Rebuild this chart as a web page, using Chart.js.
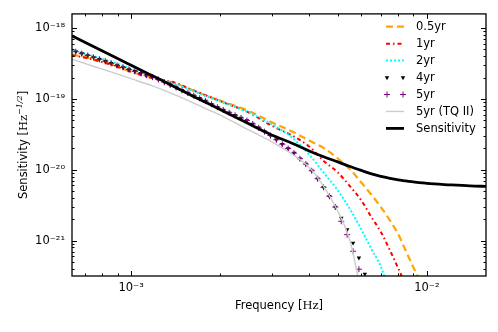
<!DOCTYPE html>
<html>
<head>
<meta charset="utf-8">
<script src="https://cdn.jsdelivr.net/npm/chart.js@4.4.1/dist/chart.umd.min.js"></script>
<style>
  html, body { margin: 0; padding: 0; background: #fff; }
  #wrap { width: 498px; height: 332px; }
</style>
</head>
<body>
<div id="wrap"><canvas id="chart" width="498" height="332"></canvas></div>
<script>
// frequencies [Hz] for the smooth curves
const freq = [0.00063, 0.0007, 0.0008, 0.0009, 0.001, 0.0012, 0.0014, 0.0016, 0.0018, 0.002,
  0.0025, 0.003, 0.0035, 0.004, 0.0045, 0.005, 0.0055, 0.006, 0.0065, 0.007,
  0.0075, 0.008, 0.0085, 0.009, 0.0095, 0.01, 0.012, 0.014, 0.016];

const sensitivity = [7.79e-19, 6.27e-19, 4.76e-19, 3.72e-19, 2.99e-19, 2.05e-19, 1.49e-19, 1.12e-19, 8.81e-20, 7.07e-20,
  4.45e-20, 3.07e-20, 2.37e-20, 1.84e-20, 1.51e-20, 1.29e-20, 1.11e-20, 9.77e-21, 8.73e-21, 8.05e-21,
  7.54e-21, 7.18e-21, 6.95e-21, 6.73e-21, 6.58e-21, 6.41e-21, 6.11e-21, 5.91e-21, 5.82e-21];

const yr05 = [4.21e-19, 3.88e-19, 3.35e-19, 2.85e-19, 2.42e-19, 1.96e-19, 1.67e-19, 1.35e-19, 1.11e-19, 9.46e-20,
  6.73e-20, 4.64e-20, 3.46e-20, 2.59e-20, 2.00e-20, 1.44e-20, 1.01e-20, 6.62e-21, 4.42e-21, 2.94e-21,
  1.93e-21, 1.23e-21, 7.07e-22, 4.21e-22, 2.67e-22, 1.64e-22];

const yr1 = [4.14e-19, 3.82e-19, 3.30e-19, 2.85e-19, 2.42e-19, 1.93e-19, 1.70e-19, 1.35e-19, 1.11e-19, 9.31e-20,
  6.41e-20, 4.14e-20, 3.04e-20, 2.13e-20, 1.31e-20, 9.16e-21, 5.82e-21, 3.70e-21, 2.13e-21, 1.31e-21,
  7.30e-22, 4.07e-22, 2.27e-22, 1.27e-22];

const yr2 = [4.95e-19, 4.35e-19, 3.70e-19, 3.14e-19, 2.67e-19, 2.03e-19, 1.64e-19, 1.33e-19, 1.08e-19, 9.16e-20,
  6.41e-20, 4.35e-20, 2.85e-20, 1.64e-20, 8.87e-21, 5.11e-21, 2.76e-21, 1.44e-21, 7.54e-22, 4.21e-22,
  1.81e-22];

const yr5tq = [3.64e-19, 3.14e-19, 2.63e-19, 2.24e-19, 1.93e-19, 1.49e-19, 1.15e-19, 9.01e-20, 7.18e-20, 5.91e-20,
  3.64e-20, 2.46e-20, 1.67e-20, 1.08e-20, 5.63e-21, 2.59e-21, 9.77e-22, 1.81e-22, 3.82e-23];

// frequencies of the marker series (4yr, 5yr)
const markerFreq = [0.000650, 0.000681, 0.000713, 0.000746, 0.000781, 0.000818, 0.000856, 0.000896, 0.000939, 0.000983,
  0.001029, 0.001077, 0.001128, 0.001181, 0.001236, 0.001295, 0.001355, 0.001419, 0.001486, 0.001556,
  0.001629, 0.001705, 0.001785, 0.001869, 0.001957, 0.002049, 0.002146, 0.002246, 0.002352, 0.002463,
  0.002578, 0.002699, 0.002826, 0.002959, 0.003098, 0.003244, 0.003396, 0.003556, 0.003723, 0.003898,
  0.004081, 0.004273, 0.004474, 0.004684, 0.004904, 0.005135, 0.005376, 0.005629, 0.005893, 0.006171,
  0.006461];

const yr5 = [4.64e-19, 4.35e-19, 4.10e-19, 3.85e-19, 3.62e-19, 3.40e-19, 3.17e-19, 2.96e-19, 2.78e-19, 2.60e-19,
  2.45e-19, 2.30e-19, 2.16e-19, 2.03e-19, 1.88e-19, 1.72e-19, 1.58e-19, 1.45e-19, 1.32e-19, 1.21e-19,
  1.11e-19, 1.02e-19, 9.31e-20, 8.42e-20, 7.64e-20, 6.98e-20, 6.39e-20, 5.87e-20, 5.38e-20, 4.95e-20,
  4.43e-20, 3.90e-20, 3.45e-20, 3.04e-20, 2.65e-20, 2.29e-20, 1.99e-20, 1.72e-20, 1.43e-20, 1.20e-20,
  9.68e-21, 7.47e-21, 5.63e-21, 4.21e-21, 2.97e-21, 1.87e-21, 1.21e-21, 7.07e-22, 3.94e-22, 1.93e-22,
  9.46e-23];

const yr4 = [4.64e-19, 4.35e-19, 4.10e-19, 3.85e-19, 3.62e-19, 3.40e-19, 3.17e-19, 2.96e-19, 2.78e-19, 2.60e-19,
  2.45e-19, 2.30e-19, 2.16e-19, 2.03e-19, 1.88e-19, 1.72e-19, 1.58e-19, 1.45e-19, 1.32e-19, 1.21e-19,
  1.11e-19, 1.02e-19, 9.31e-20, 8.42e-20, 7.64e-20, 6.98e-20, 6.39e-20, 5.87e-20, 5.38e-20, 4.95e-20,
  4.43e-20, 3.90e-20, 3.45e-20, 3.04e-20, 2.65e-20, 2.29e-20, 1.99e-20, 1.72e-20, 1.43e-20, 1.20e-20,
  9.68e-21, 7.47e-21, 5.63e-21, 4.21e-21, 2.97e-21, 2.08e-21, 1.43e-21, 9.25e-22, 5.69e-22, 3.38e-22,
  1.81e-22];

const xDecades = [-4, -3, -2, -1];
const yDecades = [-23, -22, -21, -20, -19, -18, -17];

const SANS = 'DejaVu Sans';
const SERIF = 'DejaVu Serif';
const SUP = { '-': '\u207B', '0': '\u2070', '1': '\u00B9', '2': '\u00B2', '3': '\u00B3', '4': '\u2074',
  '5': '\u2075', '6': '\u2076', '7': '\u2077', '8': '\u2078', '9': '\u2079' };

const pts = (xs, ys) => ys.map((v, i) => ({ x: xs[i], y: v }));

function isDecade(v) {
  const e = Math.log10(v);
  return Math.abs(e - Math.round(e)) < 1e-6;
}

function decadeLabel(v) {
  if (!isDecade(v)) return '';
  const e = String(Math.round(Math.log10(v)));
  return '10' + e.split('').map(c => SUP[c]).join('');
}

function logTicks(decades) {
  return (scale) => {
    const t = [];
    decades.forEach(e => {
      for (let m = 1; m < 10; m++) {
        const v = m * Math.pow(10, e);
        if (v >= scale.min * 0.9999 && v <= scale.max * 1.0001) t.push({ value: v });
      }
    });
    scale.ticks = t;
  };
}

const lineDs = (label, xs, ys, color, width, dash, order) => ({
  label, data: pts(xs, ys), borderColor: color, backgroundColor: color,
  borderWidth: width, borderDash: dash, pointRadius: 0, fill: false,
  cubicInterpolationMode: 'monotone', clip: 0, order
});

const datasets = [
  lineDs('0.5yr', freq, yr05, '#ffa500', 2.2, [7, 4], 6),
  lineDs('1yr', freq, yr1, '#ff0000', 2, [4, 3, 1.5, 3], 5),
  lineDs('2yr', freq, yr2, '#00ffff', 2, [2, 2], 4),
  {
    label: '4yr', data: pts(markerFreq, yr4), showLine: false, clip: 0, order: 3,
    pointStyle: 'triangle', rotation: 180, pointRadius: 2.6, pointBorderWidth: 0,
    pointBackgroundColor: '#000', pointBorderColor: '#000', borderColor: '#000'
  },
  {
    label: '5yr', data: pts(markerFreq, yr5), showLine: false, clip: 0, order: 2,
    pointStyle: 'cross', pointRadius: 3, pointBorderWidth: 1,
    pointBackgroundColor: '#800080', pointBorderColor: '#800080', borderColor: '#800080'
  },
  lineDs('5yr (TQ II)', freq, yr5tq, '#cccccc', 1.4, [], 1),
  lineDs('Sensitivity', freq, sensitivity, '#000000', 2.8, [], 0)
];

// frame with inward ticks on all four sides, like the original figure
const frame = {
  id: 'frame',
  afterDraw(chart) {
    const { ctx, chartArea: a, scales: { x, y } } = chart;
    ctx.save();
    ctx.strokeStyle = '#000';
    ctx.lineWidth = 1;
    ctx.beginPath();
    x.ticks.forEach(t => {
      const px = Math.round(x.getPixelForValue(t.value)) + 0.5;
      const len = isDecade(t.value) ? 5 : 2.5;
      ctx.moveTo(px, a.bottom); ctx.lineTo(px, a.bottom - len);
      ctx.moveTo(px, a.top); ctx.lineTo(px, a.top + len);
    });
    y.ticks.forEach(t => {
      const py = Math.round(y.getPixelForValue(t.value)) + 0.5;
      const len = isDecade(t.value) ? 5 : 2.5;
      ctx.moveTo(a.left, py); ctx.lineTo(a.left + len, py);
      ctx.moveTo(a.right, py); ctx.lineTo(a.right - len, py);
    });
    ctx.stroke();
    ctx.lineWidth = 1.3;
    ctx.strokeRect(a.left, a.top, a.right - a.left, a.bottom - a.top);

    // axis titles, "Hz" set in serif as in the original
    const put = (parts, x0, y0) => {
      let cx = x0;
      parts.forEach(p => {
        ctx.font = p.f;
        ctx.fillText(p.t, cx, y0 + (p.dy || 0));
        cx += ctx.measureText(p.t).width;
      });
    };
    const width = (parts) => parts.reduce((s, p) => { ctx.font = p.f; return s + ctx.measureText(p.t).width; }, 0);
    ctx.fillStyle = '#000';
    ctx.textBaseline = 'alphabetic';
    const xt = [
      { t: 'Frequency [', f: '11.5px ' + SANS },
      { t: 'Hz', f: '11.5px ' + SERIF },
      { t: ']', f: '11.5px ' + SANS }
    ];
    put(xt, (a.left + a.right) / 2 - width(xt) / 2, 309);
    const yt = [
      { t: 'Sensitivity [', f: '11.5px ' + SANS },
      { t: 'Hz', f: '11.5px ' + SERIF },
      { t: '\u22121/2', f: 'italic 8px ' + SERIF, dy: -5 },
      { t: ']', f: '11.5px ' + SANS }
    ];
    ctx.translate(27, (a.top + a.bottom) / 2);
    ctx.rotate(-Math.PI / 2);
    put(yt, -width(yt) / 2, 0);
    ctx.restore();
  }
};

// legend drawn inside the plot, top right
const legendBox = {
  id: 'legendBox',
  afterDraw(chart) {
    const ctx = chart.ctx;
    const x0 = 386, x1 = 404, tx = 416;
    ctx.save();
    chart.data.datasets.forEach((ds, i) => {
      const y = 26.7 + i * 16.95;
      if (ds.showLine === false) {
        ctx.fillStyle = ds.pointBackgroundColor;
        ctx.strokeStyle = ds.pointBorderColor;
        ctx.lineWidth = 1;
        [x0 + 1, x1 - 1].forEach(px => {
          ctx.beginPath();
          if (ds.pointStyle === 'triangle') {
            const r = ds.pointRadius;
            ctx.moveTo(px - r * 0.87, y - r * 0.5);
            ctx.lineTo(px + r * 0.87, y - r * 0.5);
            ctx.lineTo(px, y + r);
            ctx.closePath();
            ctx.fill();
          } else {
            const r = ds.pointRadius;
            ctx.moveTo(px - r, y); ctx.lineTo(px + r, y);
            ctx.moveTo(px, y - r); ctx.lineTo(px, y + r);
            ctx.stroke();
          }
        });
      } else {
        ctx.strokeStyle = ds.borderColor;
        ctx.lineWidth = ds.borderWidth;
        ctx.setLineDash(ds.borderDash || []);
        ctx.beginPath();
        ctx.moveTo(x0, y);
        ctx.lineTo(x1, y);
        ctx.stroke();
        ctx.setLineDash([]);
      }
      ctx.fillStyle = '#000';
      ctx.font = '11.5px ' + SANS;
      ctx.textBaseline = 'middle';
      ctx.fillText(ds.label, tx, y + 0.5);
    });
    ctx.restore();
  }
};

new Chart(document.getElementById('chart'), {
  type: 'line',
  data: { datasets },
  options: {
    responsive: false,
    animation: false,
    devicePixelRatio: 1,
    layout: { padding: { left: 0, right: 12, top: 12, bottom: 0 } },
    plugins: { legend: { display: false }, tooltip: { enabled: false } },
    scales: {
      x: {
        type: 'logarithmic',
        bounds: 'data',
        min: 6.31e-4,
        max: 1.585e-2,
        grid: { display: false, drawTicks: false },
        border: { display: false },
        afterBuildTicks: logTicks(xDecades),
        afterFit: (s) => { s.height = 56; },
        ticks: {
          autoSkip: false, maxRotation: 0, padding: 5, color: '#000',
          font: { family: SANS, size: 11.5 },
          callback: (v) => decadeLabel(v)
        }
      },
      y: {
        type: 'logarithmic',
        bounds: 'data',
        min: 3.16e-22,
        max: 1.585e-18,
        grid: { display: false, drawTicks: false },
        border: { display: false },
        afterBuildTicks: logTicks(yDecades),
        afterFit: (s) => { s.width = 72; },
        ticks: {
          autoSkip: false, padding: 7, color: '#000',
          font: { family: SANS, size: 11.5 },
          callback: (v) => decadeLabel(v)
        }
      }
    }
  },
  plugins: [frame, legendBox]
});
</script>
</body>
</html>
